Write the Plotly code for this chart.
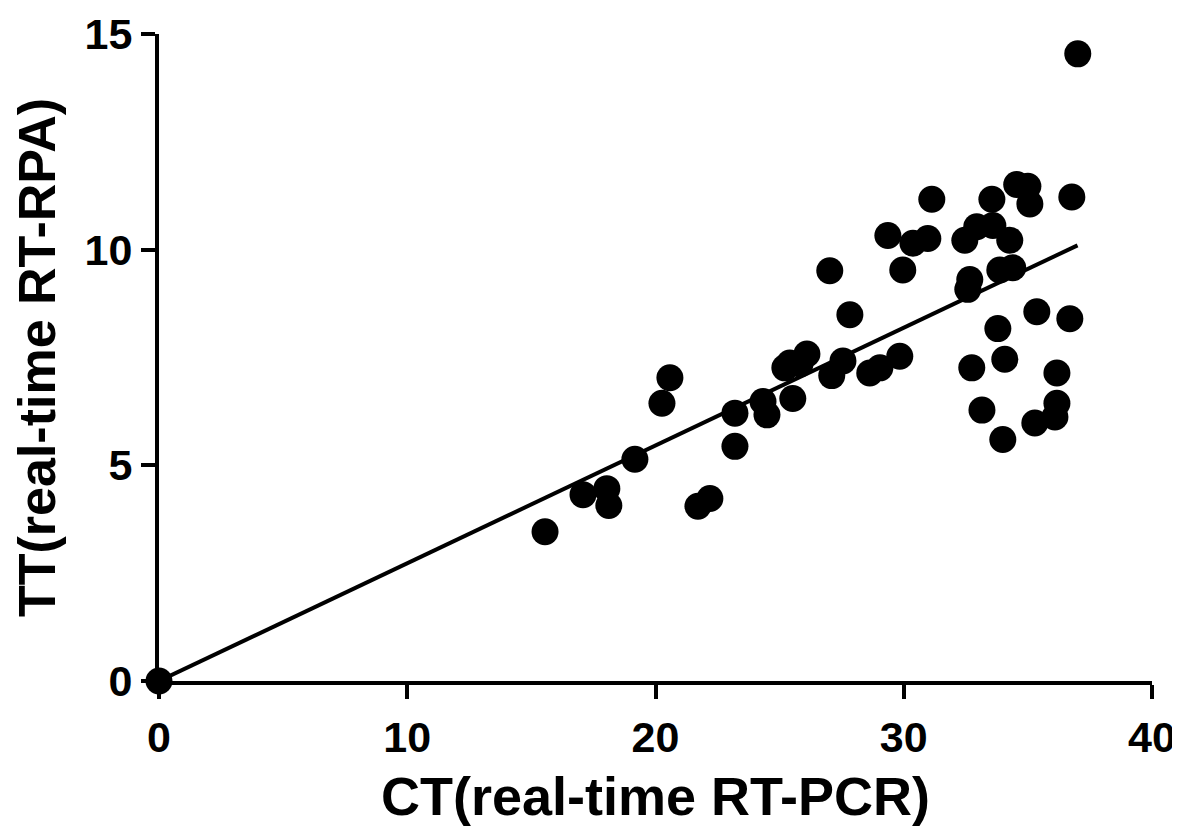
import plotly.graph_objects as go

ct = [0, 15.55, 17.08, 18.04, 18.12, 19.17, 20.26, 20.58, 21.71, 22.19, 23.2, 23.2,
      24.33, 24.49, 25.41, 25.21, 26.1, 25.82, 25.53, 27.1, 27.55, 28.63, 29.04, 29.84,
      27.02, 27.83, 29.36, 30.37, 30.97, 29.96, 31.13, 33.55, 34.55, 35.0, 35.08, 36.77,
      32.46, 32.94, 33.59, 34.27, 32.66, 32.58, 33.87, 34.39, 35.36, 36.69, 33.79, 34.07,
      32.74, 36.17, 33.15, 33.99, 35.28, 36.17, 36.09, 37.01]
tt = [0, 3.46, 4.32, 4.46, 4.07, 5.14, 6.44, 7.03, 4.05, 4.23, 6.21, 5.44,
      6.48, 6.17, 7.37, 7.26, 7.58, 7.35, 6.55, 7.08, 7.42, 7.14, 7.26, 7.53,
      9.51, 8.49, 10.33, 10.15, 10.26, 9.53, 11.17, 11.17, 11.51, 11.47, 11.06, 11.22,
      10.22, 10.53, 10.56, 10.22, 9.31, 9.08, 9.53, 9.58, 8.56, 8.4, 8.17, 7.46,
      7.26, 7.14, 6.28, 5.6, 5.98, 6.44, 6.12, 14.54]

fit_x = [0, 37.0]
fit_y = [0, 10.1]

x_ticks = [0, 10, 20, 30, 40]
y_ticks = [0, 5, 10, 15]

fig = go.Figure()
fig.add_trace(go.Scatter(x=fit_x, y=fit_y, mode="lines",
                         line=dict(color="black", width=4), cliponaxis=False,
                         showlegend=False))
fig.add_trace(go.Scatter(x=ct, y=tt, mode="markers",
                         marker=dict(color="black", size=27, line=dict(width=0)),
                         cliponaxis=False, showlegend=False))

font_family = "Liberation Sans, Arial, sans-serif"
fig.update_layout(
    width=1180, height=839,
    margin=dict(l=151, r=36, t=26, b=166),
    paper_bgcolor="white", plot_bgcolor="white",
    font=dict(family=font_family, color="black"),
    xaxis=dict(range=[0, 40], tickvals=x_ticks, ticktext=[str(v) for v in x_ticks],
               automargin=False, ticklabeloverflow="allow",
               showgrid=False, zeroline=False, showline=True, linecolor="black",
               linewidth=4, ticks="outside", ticklen=14, tickwidth=4,
               tickcolor="black", ticklabelstandoff=1,
               tickfont=dict(size=43, family=font_family, weight="bold"),
               title=dict(text="<b>CT(real-time RT-PCR)</b>", standoff=19,
                          font=dict(size=54, family=font_family))),
    yaxis=dict(range=[0, 15], tickvals=y_ticks, ticktext=[str(v) for v in y_ticks],
               automargin=False, ticklabeloverflow="allow",
               showgrid=False, zeroline=False, showline=True, linecolor="black",
               linewidth=4, ticks="outside", ticklen=14, tickwidth=4,
               tickcolor="black",
               tickfont=dict(size=43, family=font_family, weight="bold"),
               title=dict(text="<b>TT(real-time RT-RPA)</b>", standoff=22,
                          font=dict(size=52, family=font_family))),
)

fig.write_html("out.html")
